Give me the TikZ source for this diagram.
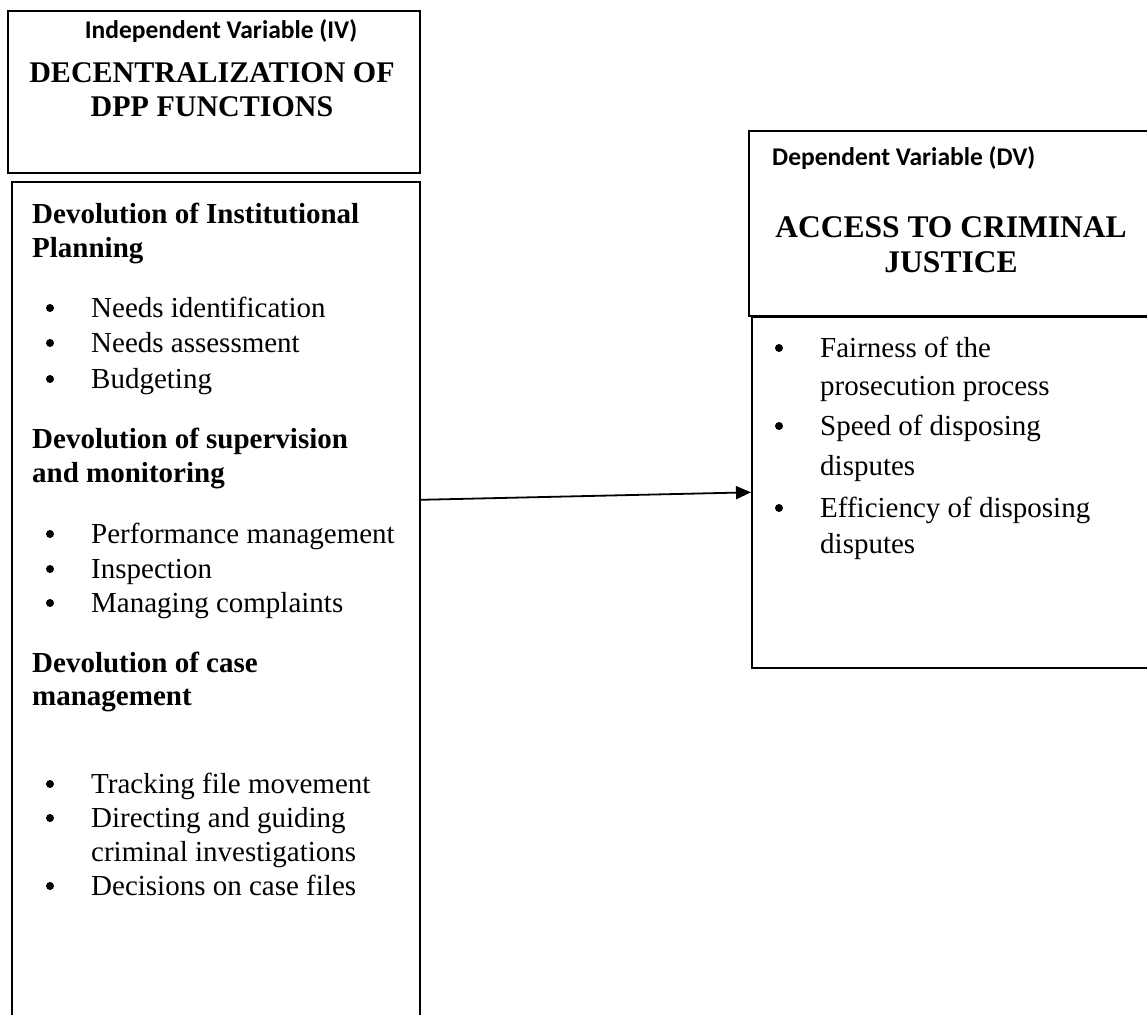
\documentclass[tikz,border=0pt]{standalone}
\usepackage{fontspec}
\setmainfont{Liberation Serif}
\newfontfamily\calib{Carlito}
\usetikzlibrary{arrows.meta,positioning}

\begin{document}
\begin{tikzpicture}[x=1pt,y=-1pt,
    box/.style={draw=black,line width=1.6pt,rectangle,inner sep=0pt,anchor=north west},
    tag/.style={font=\calib\bfseries\fontsize{25.5}{30}\selectfont,inner sep=0pt},
    ttl/.style={inner sep=0pt,anchor=base},
    hd/.style={font=\bfseries\fontsize{29}{35}\selectfont,inner sep=0pt,anchor=base west},
    itm/.style={font=\fontsize{29}{35}\selectfont,inner sep=0pt,anchor=base west},
    dot/.style={circle,fill=black,inner sep=0pt,minimum size=8pt},
    arr/.style={-{Triangle[length=15pt,width=13pt]},line width=1.8pt}
  ]
  \useasboundingbox (0,0) rectangle (1147,1014);
  \begin{scope}
    \clip (0,0) rectangle (1147,1014);
    % Independent variable boxes
    \node[box,minimum width=412pt,minimum height=162pt] (ivhead) at (7,10) {};
    \node[box,minimum width=408pt,minimum height=860pt] (ivbody) at (11,181) {};
    % Dependent variable boxes
    \node[box,minimum width=420pt,minimum height=185pt] (dvhead) at (748,130) {};
    \node[box,minimum width=420pt,minimum height=351pt] (dvbody) at (751,316) {};
  \end{scope}

  % IV heading
  \node[tag,anchor=base] (ivtag) at (221,39) {Independent Variable (IV)};
  \node[ttl,font=\bfseries\fontsize{30}{36}\selectfont] (ivt1) at (212,83) {DECENTRALIZATION OF};
  \node[ttl,font=\bfseries\fontsize{30}{36}\selectfont] (ivt2) at (212,117) {DPP FUNCTIONS};

  % IV indicators
  \node[hd] (h1a) at (32,223) {Devolution of Institutional};
  \node[hd] (h1b) at (32,257) {Planning};
  \node[hd] (h2a) at (32,448) {Devolution of supervision};
  \node[hd] (h2b) at (32,482) {and monitoring};
  \node[hd] (h3a) at (32,672) {Devolution of case};
  \node[hd] (h3b) at (32,705) {management};
  \foreach \y/\t in {317/Needs identification, 352/Needs assessment, 388/Budgeting,
      543/Performance management, 578/Inspection, 612/Managing complaints,
      793/Tracking file movement, 827/Directing and guiding, 895/Decisions on case files}{
    \node[dot] (ld\y) at (50,\y-9) {};
    \node[itm] (lt\y) at (91,\y) {\t};
  }
  \node[itm] (lt861) at (91,861) {criminal investigations};

  % DV heading
  \node[tag,anchor=base west] (dvtag) at (772,165) {Dependent Variable (DV)};
  \node[ttl,font=\bfseries\fontsize{31.5}{36}\selectfont] (dvt1) at (951,237) {ACCESS TO CRIMINAL};
  \node[ttl,font=\bfseries\fontsize{31.5}{36}\selectfont] (dvt2) at (951,272) {JUSTICE};

  % DV indicators
  \foreach \y/\t in {357/Fairness of the, 435/Speed of disposing, 517/Efficiency of disposing}{
    \node[dot] (rd\y) at (779,\y-9) {};
    \node[itm] (rt\y) at (820,\y) {\t};
  }
  \node[itm] (rt395) at (820,395) {prosecution process};
  \node[itm] (rt475) at (820,475) {disputes};
  \node[itm] (rt553) at (820,553) {disputes};

  % Relationship
  \draw[arr] ([yshift=112pt]ivbody.east) -- (dvbody.west);
\end{tikzpicture}
\end{document}
